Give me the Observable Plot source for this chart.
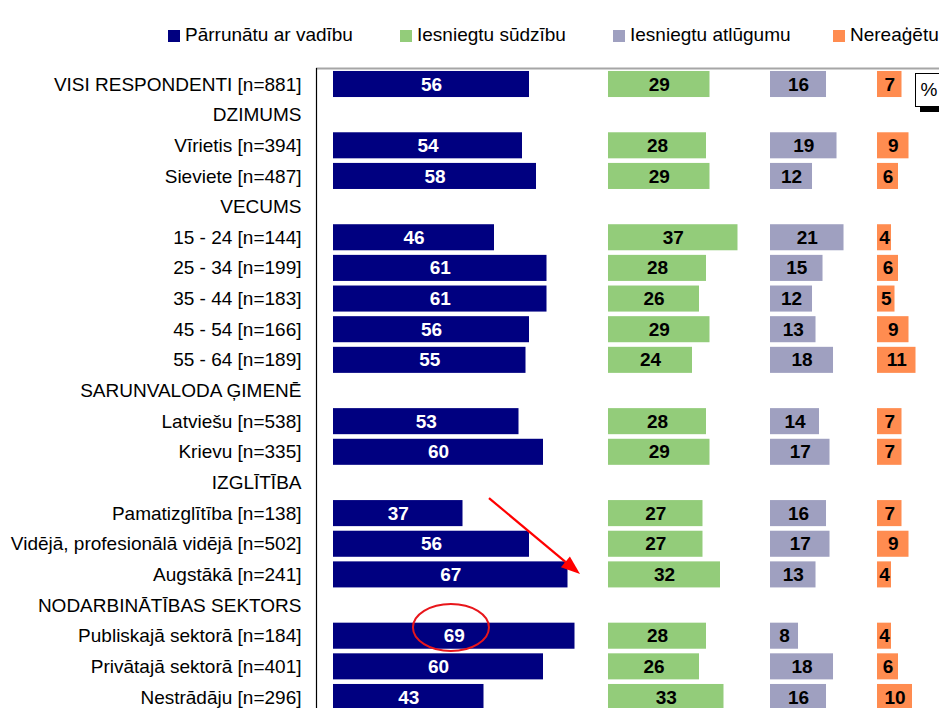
<!DOCTYPE html>
<html>
<head>
<meta charset="utf-8">
<script src="https://cdn.jsdelivr.net/npm/d3@7"></script>
<script src="https://cdn.jsdelivr.net/npm/@observablehq/plot@0.6"></script>
<style>
  html, body { margin: 0; padding: 0; background: #fff; overflow: hidden; }
  body { width: 939px; height: 708px; position: relative; font-family: "Liberation Sans", Arial, sans-serif; }
  #chart { position: absolute; left: 0; top: 0; }
  .lg-sq { position: absolute; width: 12px; height: 12px; top: 30px; }
  .lg-tx { position: absolute; top: 25px; font-size: 19px; line-height: 20px; color: #000; white-space: nowrap; }
  #pct { position: absolute; left: 915px; top: 73px; width: 26px; height: 32px; border: 1px solid #000; background: #fff;
         box-shadow: 5px 5px 0 #000; font-size: 19px; line-height: 32px; text-align: center; }
</style>
</head>
<body>
<div id="chart"></div>
<script>
// ---- data ----
const rows = [
  "VISI RESPONDENTI [n=881]", "DZIMUMS", "Vīrietis [n=394]", "Sieviete [n=487]", "VECUMS",
  "15 - 24 [n=144]", "25 - 34 [n=199]", "35 - 44 [n=183]", "45 - 54 [n=166]", "55 - 64 [n=189]",
  "SARUNVALODA ĢIMENĒ", "Latviešu [n=538]", "Krievu [n=335]", "IZGLĪTĪBA",
  "Pamatizglītība [n=138]", "Vidējā, profesionālā vidējā [n=502]", "Augstākā [n=241]",
  "NODARBINĀTĪBAS SEKTORS", "Publiskajā sektorā [n=184]", "Privātajā sektorā [n=401]", "Nestrādāju [n=296]"
];
const seriesNames = ["Pārrunātu ar vadību", "Iesniegtu sūdzību", "Iesniegtu atlūgumu", "Nereaģētu"];
const parrunatu = [56, null, 54, 58, null, 46, 61, 61, 56, 55, null, 53, 60, null, 37, 56, 67, null, 69, 60, 43];
const sudzibu   = [29, null, 28, 29, null, 37, 28, 26, 29, 24, null, 28, 29, null, 27, 27, 32, null, 28, 26, 33];
const atlugumu  = [16, null, 19, 12, null, 21, 15, 12, 13, 18, null, 14, 17, null, 16, 17, 13, null, 8, 18, 16];
const nereagetu = [7, null, 9, 6, null, 4, 6, 5, 9, 11, null, 7, 7, null, 7, 9, 4, null, 4, 6, 10];

// ---- layout / style ----
const seriesValues = [parrunatu, sudzibu, atlugumu, nereagetu];
const colors = ["#000080", "#93cc7a", "#9fa0c0", "#ff8c50"];
const textColors = ["#ffffff", "#000000", "#000000", "#000000"];
const panelOffset = [0, 78.57, 124.86, 155.43]; // panel starts in value units
const legendPos = [168, 400, 613, 833];

const table = [];
seriesValues.forEach((vals, s) => {
  vals.forEach((v, i) => {
    if (v != null) table.push({row: i, s, value: v, x0: panelOffset[s]});
  });
});

const xMin = -17 / 3.5, xMax = xMin + 623 / 3.5;
const yTop = -0.522, yBottom = yTop + 652 / 30.65;

const plot = Plot.plot({
  width: 939,
  height: 720,
  marginLeft: 316,
  marginRight: 0,
  marginTop: 68,
  marginBottom: 0,
  style: {fontFamily: "'Liberation Sans', Arial, sans-serif", fontSize: "19px", background: "transparent", color: "#000"},
  x: {domain: [xMin, xMax], axis: null},
  y: {domain: [yBottom, yTop], ticks: rows.map((d, i) => i), tickFormat: i => rows[i], tickSize: 0, tickPadding: 15, label: null},
  marks: [
    Plot.rectX(table, {
      x1: d => d.x0, x2: d => d.x0 + d.value,
      y1: d => d.row - 0.425, y2: d => d.row + 0.425,
      fill: d => colors[d.s]
    }),
    Plot.text(table, {
      x: d => d.x0 + d.value / 2, y: "row", text: d => String(d.value),
      fill: d => textColors[d.s], fontWeight: "bold", fontSize: 19
    }),
    Plot.ruleY([yTop], {x1: xMin, x2: xMax, stroke: "#a6a6a6", strokeWidth: 2}),
    Plot.ruleX([xMin], {stroke: "#000", strokeWidth: 1.2})
  ]
});
document.getElementById("chart").appendChild(plot);

// ---- annotations (in data units) ----
const xs = plot.scale("x"), ys = plot.scale("y");
const svg = d3.select(plot);
const ell = {x: 33.7, row: 17.73};
svg.append("ellipse")
  .attr("cx", xs.apply(ell.x)).attr("cy", ys.apply(ell.row))
  .attr("rx", 38).attr("ry", 23.5)
  .attr("fill", "none").attr("stroke", "#e8161b").attr("stroke-width", 2);
const arr = {x1: 44.57, r1: 13.51, x2: 70.57, r2: 15.99};
const ax1 = xs.apply(arr.x1), ay1 = ys.apply(arr.r1), ax2 = xs.apply(arr.x2), ay2 = ys.apply(arr.r2);
const ang = Math.atan2(ay2 - ay1, ax2 - ax1);
const headLen = 19, headW = 7;
const bx = ax2 - headLen * Math.cos(ang), by = ay2 - headLen * Math.sin(ang);
svg.append("line").attr("x1", ax1).attr("y1", ay1).attr("x2", bx).attr("y2", by)
  .attr("stroke", "#f00").attr("stroke-width", 2.2);
svg.append("path")
  .attr("d", `M${ax2},${ay2}L${bx + headW * Math.sin(ang)},${by - headW * Math.cos(ang)}L${bx - headW * Math.sin(ang)},${by + headW * Math.cos(ang)}Z`)
  .attr("fill", "#f00");

// ---- legend ----
seriesNames.forEach((name, s) => {
  const sq = document.createElement("div");
  sq.className = "lg-sq";
  sq.style.left = legendPos[s] + "px";
  sq.style.background = colors[s];
  document.body.appendChild(sq);
  const tx = document.createElement("div");
  tx.className = "lg-tx";
  tx.style.left = (legendPos[s] + 17) + "px";
  tx.textContent = name;
  document.body.appendChild(tx);
});
const pct = document.createElement("div");
pct.id = "pct";
pct.textContent = "%";
document.body.appendChild(pct);
</script>
</body>
</html>
